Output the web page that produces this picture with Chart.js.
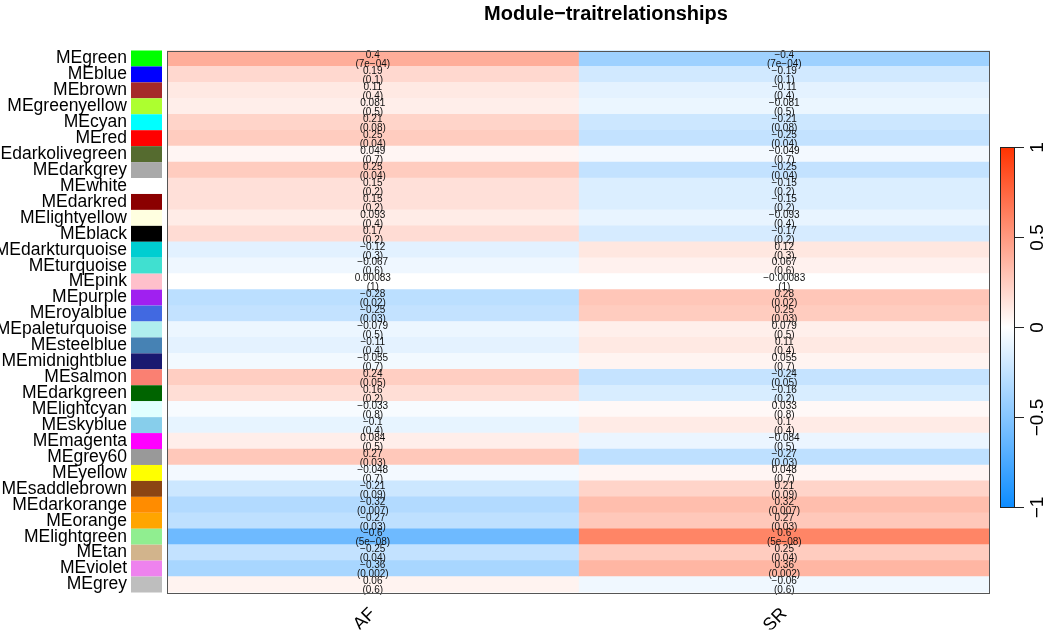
<!DOCTYPE html>
<html>
<head>
<meta charset="utf-8">
<script src="https://cdn.jsdelivr.net/npm/chart.js@4.4.0/dist/chart.umd.min.js"></script>
<style>
html,body{margin:0;padding:0;background:#fff}
</style>
</head>
<body>
<canvas id="heat" width="1052" height="643"></canvas>
<script>
// module eigengenes (rows), top to bottom
var modules=["MEgreen","MEblue","MEbrown","MEgreenyellow","MEcyan","MEred","MEdarkolivegreen","MEdarkgrey",
"MEwhite","MEdarkred","MElightyellow","MEblack","MEdarkturquoise","MEturquoise","MEpink","MEpurple",
"MEroyalblue","MEpaleturquoise","MEsteelblue","MEmidnightblue","MEsalmon","MEdarkgreen","MElightcyan",
"MEskyblue","MEmagenta","MEgrey60","MEyellow","MEsaddlebrown","MEdarkorange","MEorange","MElightgreen",
"MEtan","MEviolet","MEgrey"];
var moduleColors=["#00FF00","#0000FF","#A52A2A","#ADFF2F","#00FFFF","#FF0000","#556B2F","#A9A9A9",
"#FFFFFF","#8B0000","#FFFFE0","#000000","#00CED1","#40E0D0","#FFC0CB","#A020F0",
"#4169E1","#AFEEEE","#4682B4","#191970","#FA8072","#006400","#E0FFFF",
"#87CEEB","#FF00FF","#999999","#FFFF00","#8B4513","#FF8C00","#FFA500","#90EE90",
"#D2B48C","#EE82EE","#BEBEBE"];
var traits=["AF","SR"];
var corAF=[0.4,0.19,0.11,0.081,0.21,0.25,0.049,0.25,0.15,0.15,0.093,0.17,-0.12,-0.067,0.00083,-0.28,
-0.25,-0.079,-0.11,-0.055,0.24,0.16,-0.033,-0.1,0.084,0.27,-0.048,-0.21,-0.32,-0.27,-0.6,-0.25,-0.36,0.06];
var corSR=[-0.4,-0.19,-0.11,-0.081,-0.21,-0.25,-0.049,-0.25,-0.15,-0.15,-0.093,-0.17,0.12,0.067,-0.00083,0.28,
0.25,0.079,0.11,0.055,-0.24,-0.16,0.033,0.1,-0.084,-0.27,0.048,0.21,0.32,0.27,0.6,0.25,0.36,-0.06];
var pAF=["7e-04","0.1","0.4","0.5","0.08","0.04","0.7","0.04","0.2","0.2","0.4","0.2","0.3","0.6","1","0.02",
"0.03","0.5","0.4","0.7","0.05","0.2","0.8","0.4","0.5","0.03","0.7","0.09","0.007","0.03","5e-08","0.04","0.002","0.6"];
var pSR=pAF.slice();
var legendTicks=[-1,-0.5,0,0.5,1];

var corByTrait=[corAF,corSR];
var pByTrait=[pAF,pSR];

function bwr(v){
  var t=Math.max(-1,Math.min(1,v));
  var end=t<0?[13,140,255]:[255,51,0];
  var a=Math.abs(t);
  var c=[0,1,2].map(function(k){return Math.round(255+(end[k]-255)*a);});
  return 'rgb('+c.join(',')+')';
}
function rminus(s){return String(s).replace('-','\u2212');}

var extras={
  id:'extras',
  afterDatasetsDraw:function(chart){
    var ctx=chart.ctx, xs=chart.scales.x, ys=chart.scales.y, ca=chart.chartArea;
    var band=(ca.bottom-ca.top)/modules.length;
    ctx.save();
    // module colour swatches
    for(var i=0;i<modules.length;i++){
      var yc=ys.getPixelForValue(i);
      ctx.fillStyle=moduleColors[i];
      ctx.fillRect(131,yc-band/2,31,band);
    }
    // cell text
    ctx.fillStyle='#111';
    ctx.font='10px "Liberation Sans", Arial, sans-serif';
    ctx.textAlign='center';
    ctx.textBaseline='middle';
    for(var j=0;j<traits.length;j++){
      var xc=xs.getPixelForValue(j+0.5);
      for(var r=0;r<modules.length;r++){
        var y=ys.getPixelForValue(r);
        ctx.fillText(rminus(corByTrait[j][r]),xc,y-3);
        ctx.fillText('('+rminus(pByTrait[j][r])+')',xc,y+6);
      }
    }
    // frame
    ctx.strokeStyle='#555';
    ctx.lineWidth=1;
    ctx.strokeRect(Math.round(ca.left)+0.5,Math.round(ca.top)+0.5,Math.round(ca.right-ca.left)-1,Math.round(ca.bottom-ca.top));
    // title
    ctx.fillStyle='#000';
    ctx.font='bold 20px "Liberation Sans", Arial, sans-serif';
    ctx.fillText('Module\u2212traitrelationships',606,14);
    // colour bar
    var bx=1000,bw=14,top=147,bot=507;
    var g=ctx.createLinearGradient(0,bot,0,top);
    for(var s=0;s<=20;s++){var v=-1+s/10;g.addColorStop(s/20,bwr(v));}
    ctx.fillStyle=g;
    ctx.fillRect(bx,top,bw,bot-top);
    ctx.strokeStyle='#222';
    ctx.strokeRect(bx+0.5,top+0.5,bw,bot-top);
    ctx.fillStyle='#000';
    ctx.font='19px "Liberation Sans", Arial, sans-serif';
    legendTicks.forEach(function(t){
      var yy=Math.round((top+bot)/2-t*(bot-top)/2)+0.5;
      ctx.beginPath();ctx.moveTo(bx+bw,yy);ctx.lineTo(bx+bw+10,yy);ctx.stroke();
      ctx.save();
      ctx.translate(1038,yy);
      ctx.rotate(-Math.PI/2);
      ctx.textAlign='center';ctx.textBaseline='middle';
      ctx.fillText(rminus(t),0,0);
      ctx.restore();
    });
    ctx.restore();
  }
};

new Chart(document.getElementById('heat'),{
  type:'bar',
  data:{
    labels:modules,
    datasets:traits.map(function(tr,j){
      return {
        label:tr,
        data:modules.map(function(){return 1;}),
        backgroundColor:corByTrait[j].map(bwr),
        borderWidth:0,
        barPercentage:1,
        categoryPercentage:1
      };
    })
  },
  options:{
    indexAxis:'y',
    responsive:false,
    animation:false,
    layout:{padding:{top:46,right:62,bottom:0,left:0}},
    plugins:{legend:{display:false},tooltip:{enabled:false},title:{display:false}},
    scales:{
      x:{
        stacked:true,min:0,max:2,
        grid:{display:false,drawTicks:false},
        border:{display:false},
        afterBuildTicks:function(sc){sc.ticks=[{value:0.5},{value:1.5}];},
        afterFit:function(sc){sc.height=37;},
        ticks:{autoSkip:false,minRotation:45,maxRotation:45,padding:11,color:'#000',
          font:{family:'"Liberation Sans", Arial, sans-serif',size:18},
          callback:function(v,i){return traits[i];}}
      },
      y:{
        stacked:true,
        grid:{display:false,drawTicks:false},
        border:{display:false},
        afterFit:function(sc){sc.width=167;},
        ticks:{autoSkip:false,padding:40,color:'#000',
          font:{family:'"Liberation Sans", Arial, sans-serif',size:17.5}}
      }
    }
  },
  plugins:[extras]
});
</script>
</body>
</html>
